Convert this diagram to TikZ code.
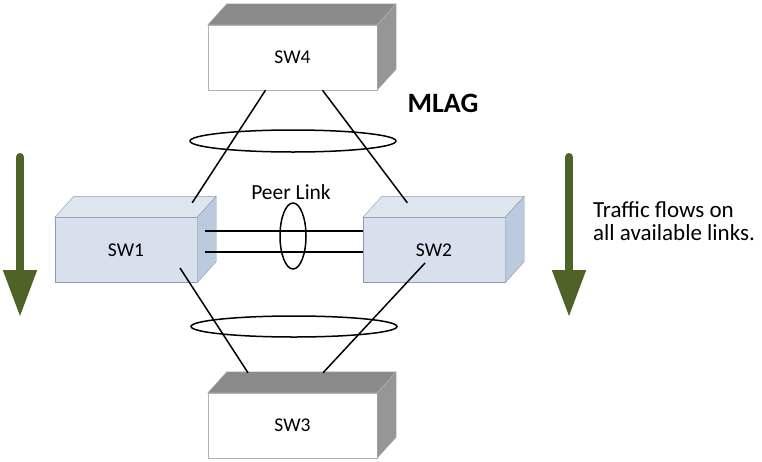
\documentclass[tikz,border=0pt]{standalone}
\usepackage{fontspec}
\setmainfont{Carlito}
\usepackage{tikz}
\usetikzlibrary{arrows.meta,shapes.geometric}
\definecolor{FlowGreen}{RGB}{79,98,40}
\definecolor{BoxBlue}{RGB}{215,224,236}
\definecolor{TopBlue}{RGB}{222,229,239}
\definecolor{SideBlue}{RGB}{188,202,222}
\definecolor{EdgeBlue}{RGB}{140,155,180}
\definecolor{TopGray}{RGB}{138,138,138}
\definecolor{SideGray}{RGB}{150,150,150}
\definecolor{EdgeGray}{RGB}{178,178,178}
% top and side faces of a switch box
\newcommand{\boxfaces}[4]{%
  \filldraw[fill=#2,draw=#4] (#1.north west) -- ([shift={(19pt,21pt)}]#1.north west) -- ([shift={(19pt,21pt)}]#1.north east) -- (#1.north east) -- cycle;
  \filldraw[fill=#3,draw=#4] (#1.north east) -- ([shift={(19pt,21pt)}]#1.north east) -- ([shift={(19pt,21pt)}]#1.south east) -- (#1.south east) -- cycle;}

\begin{document}
\begin{tikzpicture}[
  x=1pt,y=-1pt,
  swgray/.style={rectangle,draw=EdgeGray,fill=white,minimum width=169pt,minimum height=65pt,inner sep=0pt,font=\fontsize{19.5}{21}\selectfont},
  swblue/.style={rectangle,draw=EdgeBlue,fill=BoxBlue,minimum width=142pt,minimum height=65pt,inner sep=0pt,font=\fontsize{19.5}{21}\selectfont},
  link/.style={draw=black,line width=1.5pt},
  ring/.style={ellipse,draw=black,line width=1.5pt,inner sep=0pt},
  flow/.style={draw=FlowGreen,line width=8pt,line cap=round,-{Triangle[width=32pt,length=47pt]}}
]
\useasboundingbox (0,0) rectangle (762,461);
% switches
\node[swgray] (sw4) at (292.5,57.5) {SW4};
\node[swgray] (sw3) at (292.5,425.5) {SW3};
\node[swblue] (sw1) at (126,250) {SW1};
\node[swblue] (sw2) at (434,250) {SW2};
\boxfaces{sw4}{TopGray}{SideGray}{EdgeGray}
\boxfaces{sw3}{TopGray}{SideGray}{EdgeGray}
\boxfaces{sw1}{TopBlue}{SideBlue}{EdgeBlue}
\boxfaces{sw2}{TopBlue}{SideBlue}{EdgeBlue}
% uplinks and downlinks
\draw[link] ([xshift=-27pt]sw4.south) -- ([shift={(-5pt,14.5pt)}]sw1.north east);
\draw[link] ([xshift=30pt]sw4.south) -- ([shift={(44.5pt,14.5pt)}]sw2.north west);
\draw[link] ([shift={(54pt,-18pt)}]sw1.center) -- ([shift={(-44.5pt,20pt)}]sw3.north);
\draw[link] ([shift={(-9pt,-13pt)}]sw2.center) -- ([shift={(30.5pt,20pt)}]sw3.north);
% peer link
\draw[link] ([shift={(8pt,19pt)}]sw1.east) -- ([yshift=19pt]sw2.west);
\draw[link] ([shift={(8pt,-2pt)}]sw1.east) -- ([yshift=-2pt]sw2.west);
\node[ring,minimum width=26pt,minimum height=66pt] (peer) at (293,236) {};
\node[font=\fontsize{21.5}{24}\selectfont] (peerlabel) at (291,192) {Peer Link};
% MLAG bundles
\node[ring,minimum width=206pt,minimum height=22pt] (mlagtop) at (293,141) {};
\node[ring,minimum width=206pt,minimum height=21pt] (mlagbot) at (294,326.5) {};
\node[font=\fontsize{28}{32}\selectfont\bfseries] (mlag) at (443,103) {MLAG};
% traffic arrows
\coordinate (lefttop) at (20,157);
\coordinate (leftend) at (20,317);
\coordinate (righttop) at (569,157);
\coordinate (rightend) at (569,317);
\draw[flow] (lefttop) -- (leftend);
\draw[flow] (righttop) -- (rightend);
\node[anchor=west,align=left,inner sep=0pt,font=\fontsize{23}{23}\selectfont] (traffic) at (593,221) {Traffic flows on\\all available links.};
\end{tikzpicture}
\end{document}
